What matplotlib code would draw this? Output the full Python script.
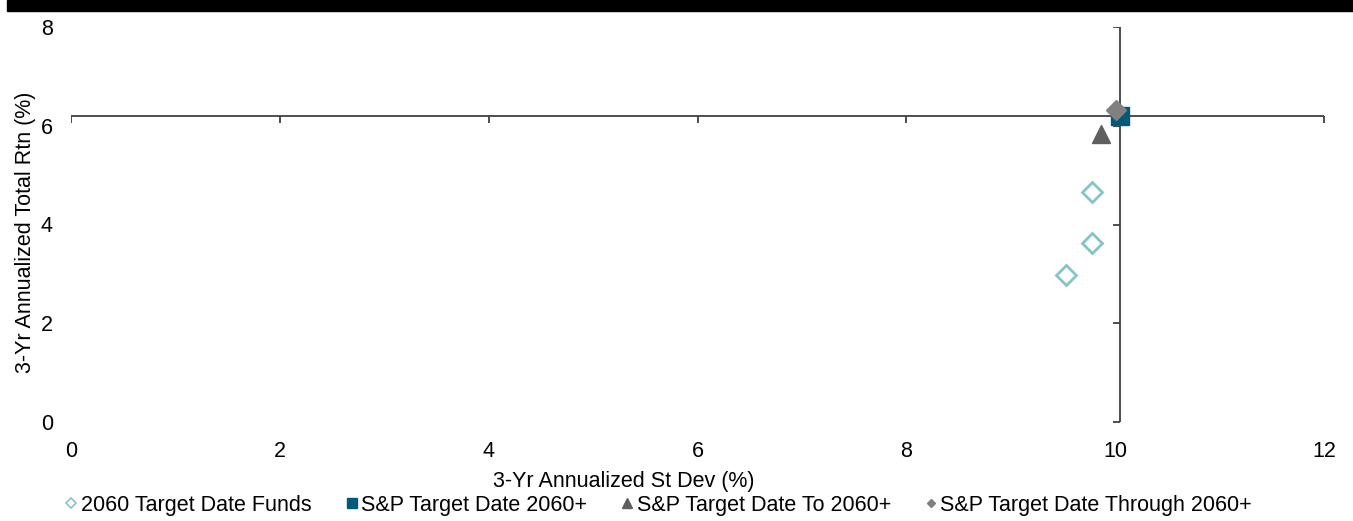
import numpy as np
from matplotlib import pyplot as plt
from matplotlib.lines import Line2D
from matplotlib.patches import Rectangle

plt.rcParams['font.family'] = ['Liberation Sans', 'DejaVu Sans']

# 3-yr annualized st dev (%) / total return (%)
funds_sd = [9.78, 9.78, 9.53]
funds_rtn = [4.66, 3.62, 2.98]
idx_names = ["S&P Target Date 2060+", "S&P Target Date To 2060+", "S&P Target Date Through 2060+"]
idx_sd = [10.05, 9.86, 10.01]
idx_rtn = [6.20, 5.84, 6.32]

x_ticks = [0, 2, 4, 6, 8, 10, 12]
y_ticks = [0, 2, 4, 6, 8]

c_funds = "#85c4c9"
c_sq = "#005a78"
c_tri = "#5f5f5f"
c_dia = "#808080"
c_line = "#404040"
fs = 15.5

fig = plt.figure(figsize=(13.53, 5.21), dpi=100)
ax = fig.add_axes([71 / 1353, 1 - 422 / 521, 1253 / 1353, 395 / 521])
ax.set_xlim(0, 12)
ax.set_ylim(0, 8)
for s in ax.spines.values():
    s.set_visible(False)

# crosshair through the benchmark
cx, cy = idx_sd[0], idx_rtn[0]
ax.axhline(cy, color=c_line, lw=1.3, zorder=1)
ax.axvline(cx, color=c_line, lw=1.3, zorder=1)
ax.plot(x_ticks, [cy] * len(x_ticks), ls="none", marker=3, ms=5, mew=1.3, color=c_line, zorder=1)
ax.plot([cx] * len(y_ticks), y_ticks, ls="none", marker=0, ms=5, mew=1.3, color=c_line, zorder=1)

ax.plot(funds_sd, funds_rtn, ls="none", marker="D", ms=10, mfc="white", mec=c_funds, mew=2, zorder=3)
ax.plot(idx_sd[0], idx_rtn[0], ls="none", marker="s", ms=13.5, color=c_sq, zorder=4)
ax.plot(idx_sd[1], idx_rtn[1], ls="none", marker="^", ms=13, color=c_tri, zorder=5)
ax.plot(idx_sd[2], idx_rtn[2], ls="none", marker="D", ms=10, color=c_dia, zorder=6)

ax.set_xticks(x_ticks)
ax.set_yticks(y_ticks)
ax.tick_params(axis="x", length=0, pad=14, labelsize=fs)
ax.tick_params(axis="y", length=0, pad=13, labelsize=fs)

ax.set_xlabel("3-Yr Annualized St Dev (%)", fontsize=fs)
ax.xaxis.set_label_coords(0.441, -0.125)
ax.set_ylabel("3-Yr Annualized Total Rtn (%)", fontsize=fs)
ax.yaxis.set_label_coords(-0.028, 0.48)

handles = [
    Line2D([], [], ls="none", marker="D", ms=5, mfc="white", mec=c_funds, mew=1.2),
    Line2D([], [], ls="none", marker="s", ms=7, color=c_sq),
    Line2D([], [], ls="none", marker="^", ms=6.5, color=c_tri),
    Line2D([], [], ls="none", marker="D", ms=4.5, color=c_dia),
]
labels = ["2060 Target Date Funds"] + idx_names
fig.legend(handles, labels, loc="center left", bbox_to_anchor=(66 / 1353, 1 - 505 / 521),
           ncol=4, frameon=False, fontsize=fs, handlelength=0.5, handletextpad=0.2,
           columnspacing=1.6, borderpad=0, borderaxespad=0)

fig.patches.append(Rectangle((7 / 1353, 1 - 11 / 521), 1, 11 / 521, transform=fig.transFigure,
                             color="black", zorder=10))

fig.savefig("out.png", dpi=100)
